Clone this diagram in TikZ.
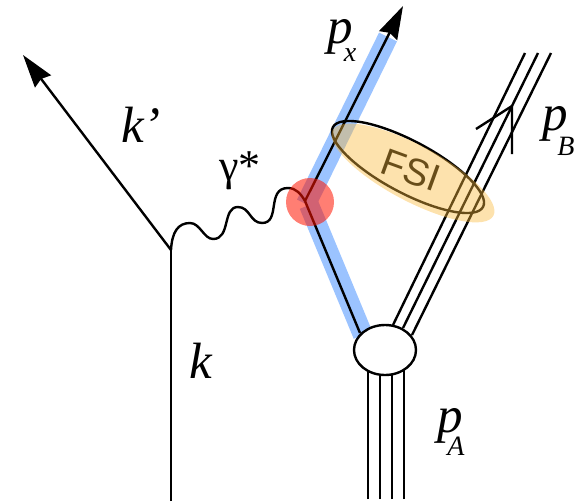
\documentclass[tikz,border=0pt]{standalone}
\usepackage{fontspec}
\setmainfont{Liberation Serif}
\setsansfont{Liberation Sans}
\usetikzlibrary{arrows.meta,shapes.geometric}
\definecolor{bandblue}{RGB}{155,195,255}
\definecolor{fsiorange}{RGB}{250,185,60}
\definecolor{hitred}{RGB}{255,20,0}
\tikzset{
  thin line/.style={draw=black,line width=2.4pt},
  band/.style={draw=bandblue,line width=20pt},
  lbl/.style={font=\fontsize{51}{51}\selectfont\itshape,inner sep=0pt,anchor=base},
  sublbl/.style={font=\fontsize{28}{28}\selectfont\itshape,inner sep=0pt,anchor=base},
  bigarrow/.style={-{Stealth[length=33pt,width=20pt,inset=3pt]}}
}
\begin{document}
\begin{tikzpicture}[x=1pt,y=-1pt]
\useasboundingbox (0,0) rectangle (588,501);
% named points
\coordinate (kin) at (171,501);
\coordinate (v) at (171,250);
\coordinate (kout) at (23,55);
\coordinate (hit) at (305,201);
\coordinate (pxtop) at (403,6);
\coordinate (bandtop) at (388,37);
\coordinate (bandmid) at (306,204);
\coordinate (bandmidb) at (309,205);
\coordinate (bandlow) at (363,335);
% bands
\draw[band] (bandtop) -- (bandmid);
\draw[band] (bandmidb) -- (bandlow);
% electron
\draw[thin line] (kin) -- (v);
\draw[thin line,bigarrow] (v) -- (kout);
% photon
\draw[thin line] (v) .. controls (172,232) and (178,223) .. (190,223)
  .. controls (200,223) and (204,239) .. (213,239)
  .. controls (231,239) and (222,207) .. (238,207)
  .. controls (250,207) and (250,223) .. (262,223)
  .. controls (281,223) and (266,188) .. (288,188)
  .. controls (296,188) and (301,194) .. (hit);
% struck quark
\draw[thin line,bigarrow] (hit) -- (pxtop);
\draw[thin line] (hit) -- (360,333);
% spectators pB
\foreach \n/\xa/\ya/\xb in {a/393/325/525,b/403/328/538,c/412/335/551}{
  \coordinate (s\n) at (\xa,\ya);
  \coordinate (t\n) at (\xb,53);
  \draw[thin line] (s\n) -- (t\n);
}
% open arrow
\coordinate (arl) at (476,129);
\coordinate (art) at (512,106);
\coordinate (arb) at (512,154);
\draw[thin line] (arl) -- (art) -- (arb);
% target legs
\foreach \n/\x in {a/368,b/380,c/392,d/404}{
  \coordinate (l\n) at (\x,499);
  \coordinate (u\n) at (\x,370);
  \draw[thin line] (l\n) -- (u\n);
}
\node[ellipse,draw=black,line width=2.4pt,fill=white,minimum width=62pt,minimum height=50pt,inner sep=0pt] (blob) at (385,350) {};
% FSI
\node[font=\sffamily\fontsize{38}{38}\selectfont,rotate=-20,inner sep=0pt] (fsi) at (411,170) {FSI};
\node[ellipse,draw=black,line width=2.4pt,minimum width=170pt,minimum height=52pt,inner sep=0pt,rotate=-28] (fsiring) at (408,167) {};
\node[ellipse,fill=fsiorange,opacity=.42,minimum width=182pt,minimum height=56pt,inner sep=0pt,rotate=-28] (fsiglow) at (413,173) {};
% hit blob
\node[circle,fill=hitred,opacity=.55,minimum size=48pt,inner sep=0pt] (hitblob) at (310,202) {};
% labels
\node[lbl] (lpx) at (340,43) {p};
\node[sublbl] (lx) at (350,61) {x};
\node[lbl,anchor=base west] (lkp) at (121,142) {k’};
\node[lbl] (lk) at (201,378) {k};
\node[font=\fontsize{44}{44}\selectfont,inner sep=0pt] (lg) at (240,171) {γ*};
\node[lbl] (lpa) at (450,432) {p};
\node[sublbl] (la) at (456,455) {A};
\node[lbl] (lpb) at (555,130) {p};
\node[sublbl] (lb) at (566,155) {B};
\end{tikzpicture}
\end{document}
